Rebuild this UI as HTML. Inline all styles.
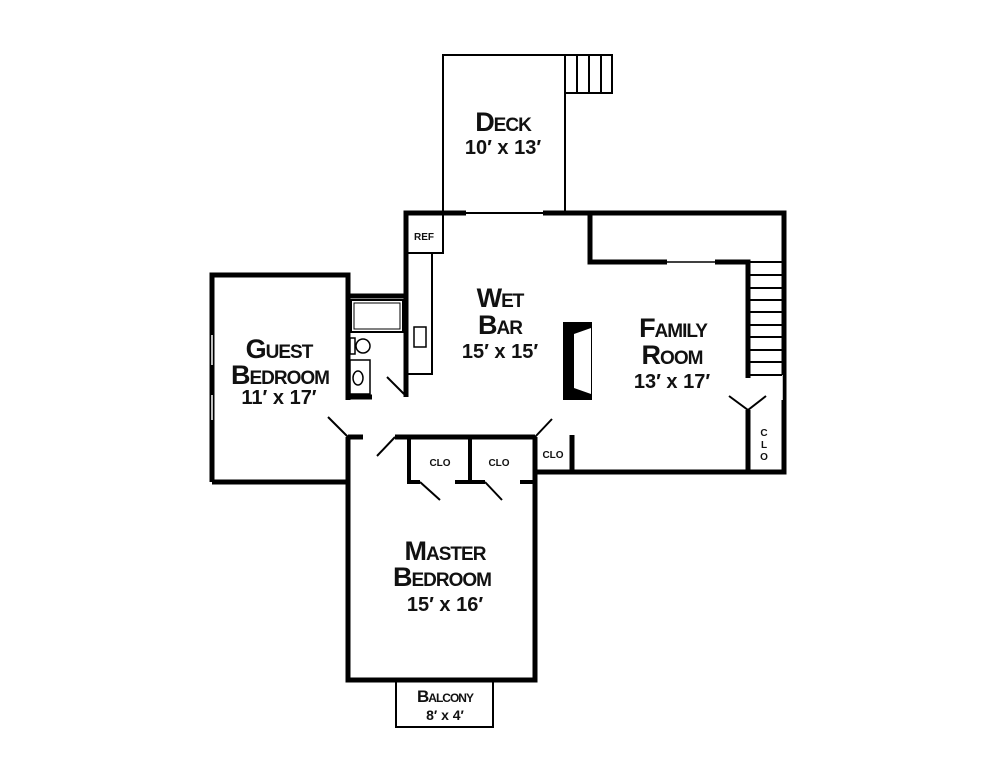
<!DOCTYPE html>
<html><head><meta charset="utf-8"><style>
html,body{margin:0;padding:0;background:#fff;width:999px;height:768px;overflow:hidden}
svg{display:block}
text{font-family:"Liberation Sans",sans-serif;font-weight:bold;fill:#111;text-anchor:middle}
.r{font-size:27px;font-variant:small-caps;letter-spacing:-1px}
.d{font-size:20px}
.s{font-size:10px}
</style></head><body>
<svg width="999" height="768" viewBox="0 0 999 768">
<g fill="none" stroke="#000">
<rect x="443" y="55" width="122" height="158" stroke-width="2"/>
<rect x="565" y="55" width="47" height="38" stroke-width="2"/>
<path d="M577 55V93M589 55V93M601 55V93" stroke-width="2"/>
<g stroke-width="5">
<path d="M406 397V213H466M543 213H784V472H535"/>
<path d="M348 296H406"/>
<path d="M212 482V275H348V400M348 437V482H212"/>
<path d="M348 437H363M395 437H535M535 437V680H348V482"/>
<path d="M572 435V472"/>
<path d="M590 213V262H667M715 262H748V378M748 410V472"/>
<path d="M348 397H372"/>
</g>
<g stroke-width="4">
<path d="M409 437V482H420M470 437V482M455 482H485M520 482H535"/>
</g>
<path d="M348 680H405M490 680H535" stroke-width="5"/>
<rect x="396" y="680" width="97" height="47" stroke-width="2"/>
<path d="M405 680H490" stroke-width="1.5"/>
<path d="M466 213H543M667 262H715M273 275H322" stroke-width="1.5"/>
<path d="M212 335V365M212 395V420M782 375V400" stroke="#fff" stroke-width="1.5"/>
<path d="M748 262H782" stroke-width="2"/>
<path d="M748 275H782M748 288H782M748 300H782M748 312H782M748 325H782M748 337H782M748 350H782M748 362H782M748 375H782" stroke-width="2"/>
<rect x="406" y="213" width="37" height="40" stroke-width="2"/>
<rect x="406" y="253" width="26" height="121" stroke-width="2"/>
<rect x="414" y="327" width="12" height="20" stroke-width="1.5"/>
<rect x="351" y="300" width="52" height="32" stroke-width="2"/>
<rect x="354" y="303" width="46" height="26" stroke-width="1"/>
<circle cx="363" cy="346" r="7" stroke-width="1.5"/>
<rect x="350" y="338" width="5" height="16" stroke-width="1.5"/>
<rect x="350" y="360" width="20" height="34" stroke-width="1.5"/>
<ellipse cx="358" cy="378" rx="5" ry="7" stroke-width="1.5"/>
<g stroke-width="2">
<path d="M387 377L404 394M328 417L348 437M377 456L395 437M535 437L552 419M420 482L440 500M485 482L502 500M729 396L748 410L766 396"/>
</g>
</g>
<path d="M563 322H592V400H563Z" fill="#000"/>
<path d="M574 334L591 328V394L574 388Z" fill="#fff"/>
<text class="r" x="503" y="131">Deck</text>
<text class="d" x="503" y="154">10′ x 13′</text>
<text class="s" x="424" y="240">REF</text>
<text class="r" x="500" y="307">Wet</text>
<text class="r" x="500" y="334">Bar</text>
<text class="d" x="500" y="358">15′ x 15′</text>
<text class="r" x="673" y="337">Family</text>
<text class="r" x="672" y="364">Room</text>
<text class="d" x="672" y="388">13′ x 17′</text>
<text class="r" x="279" y="358">Guest</text>
<text class="r" x="280" y="384">Bedroom</text>
<text class="d" x="279" y="404">11′ x 17′</text>
<text class="s" x="440" y="466">CLO</text>
<text class="s" x="499" y="466">CLO</text>
<text class="s" x="553" y="458">CLO</text>
<text class="s" x="764" y="436">C</text>
<text class="s" x="764" y="448">L</text>
<text class="s" x="764" y="460">O</text>
<text class="r" x="445" y="560">Master</text>
<text class="r" x="442" y="586">Bedroom</text>
<text class="d" x="445" y="611">15′ x 16′</text>
<text class="r" x="445" y="702" style="font-size:17px">Balcony</text>
<text x="445" y="720" style="font-size:14px">8′ x 4′</text>
</svg>
</body></html>
